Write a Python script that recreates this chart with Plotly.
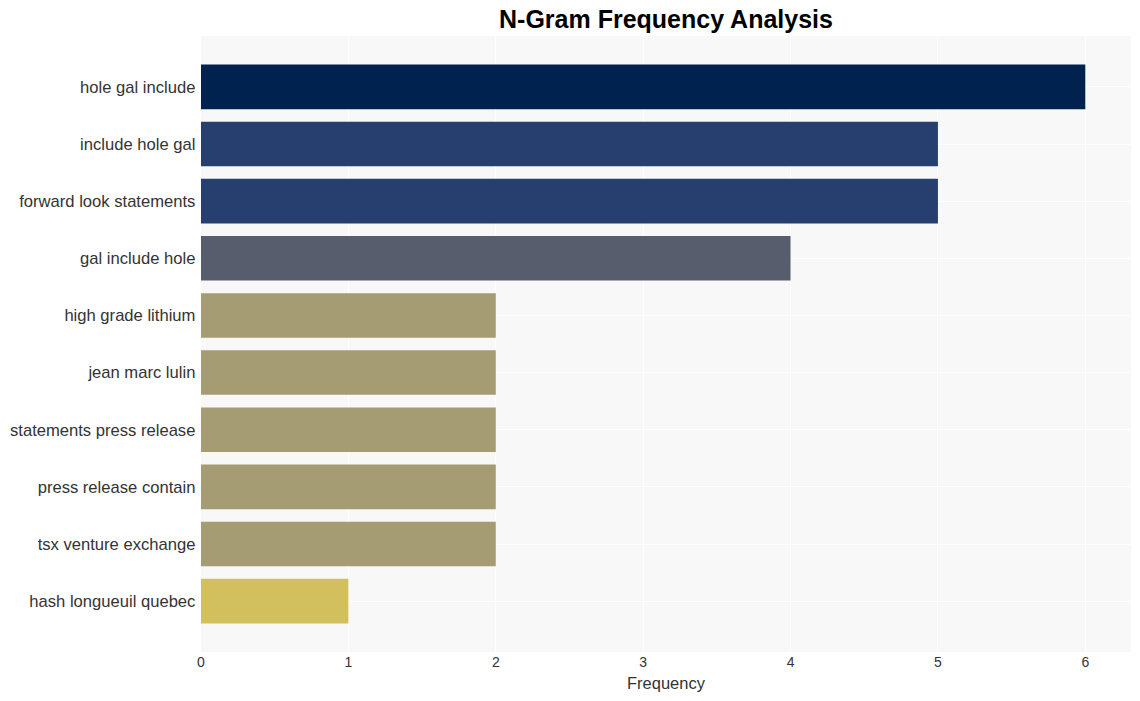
import plotly.graph_objects as go

ngrams = [
    "hole gal include",
    "include hole gal",
    "forward look statements",
    "gal include hole",
    "high grade lithium",
    "jean marc lulin",
    "statements press release",
    "press release contain",
    "tsx venture exchange",
    "hash longueuil quebec",
]
frequency = [6, 5, 5, 4, 2, 2, 2, 2, 2, 1]

fig = go.Figure(
    go.Bar(
        x=frequency,
        y=ngrams,
        orientation="h",
        marker=dict(
            color=frequency,
            colorscale="Cividis",
            reversescale=True,
            cmin=0,
            cmax=6,
            line=dict(width=0),
        ),
        showlegend=False,
    )
)

fig.update_layout(
    width=1140,
    height=701,
    margin=dict(l=201, r=9, t=36, b=49),
    paper_bgcolor="white",
    plot_bgcolor="#F8F8F8",
    bargap=0.22,
    font=dict(family="Liberation Sans, Arial, sans-serif", color="#333333"),
    title=dict(
        text="<b>N-Gram Frequency Analysis</b>",
        x=0.5,
        xref="paper",
        xanchor="center",
        y=0.973,
        yanchor="middle",
        font=dict(size=25, color="black"),
    ),
    xaxis=dict(
        title=dict(text="Frequency", font=dict(size=16.5), standoff=8),
        tickfont=dict(size=14),
        gridcolor="white",
        gridwidth=1,
        zeroline=False,
        tickvals=[0, 1, 2, 3, 4, 5, 6],
        range=[0, 6.31],
        showline=False,
    ),
    yaxis=dict(
        tickfont=dict(size=16.6),
        gridcolor="white",
        gridwidth=1,
        range=[9.89, -0.89],
        ticksuffix=" ",
        showline=False,
    ),
)

fig.write_html("out.html")
